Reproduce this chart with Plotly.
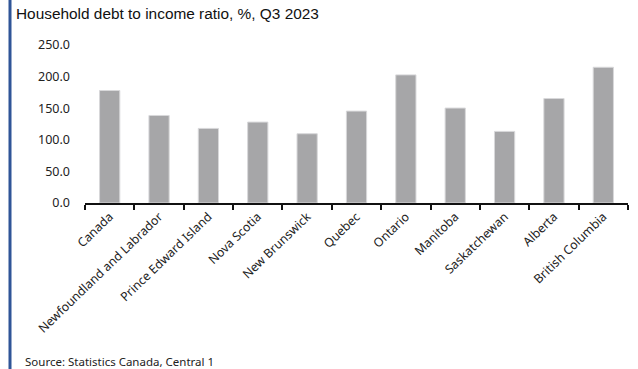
import plotly.graph_objects as go

categories = ["Canada", "Newfoundland and Labrador", "Prince Edward Island", "Nova Scotia",
              "New Brunswick", "Quebec", "Ontario", "Manitoba", "Saskatchewan", "Alberta",
              "British Columbia"]
values = [178.0, 138.5, 118.0, 128.0, 109.6, 145.4, 202.7, 150.2, 113.3, 165.3, 214.8]
y_ticks = [0, 50, 100, 150, 200, 250]
y_tick_labels = ["0.0", "50.0", "100.0", "150.0", "200.0", "250.0"]

W, H = 638, 369
L, R, T, B = 85, 10, 45, 165.5
pw = W - L - R

fig = go.Figure()
fig.add_trace(go.Bar(
    x=categories, y=values,
    marker=dict(color="#a6a6a8", line=dict(color="#d8d8da", width=1)),
    width=0.41,
))

fig.update_layout(
    width=W, height=H,
    margin=dict(l=L, r=R, t=T, b=B, pad=0),
    paper_bgcolor="white", plot_bgcolor="white",
    showlegend=False,
    font=dict(family="Noto Sans, Open Sans, sans-serif", color="#222222", size=12),
    title=dict(text="Household debt to income ratio, %, Q3 2023",
               x=16 / W, xanchor="left", xref="container",
               y=1 - 8 / H, yanchor="top", yref="container",
               font=dict(family="Liberation Sans, Arial, sans-serif", size=15.4, color="#111111")),
    xaxis=dict(
        showline=True, linecolor="#111111", linewidth=1.5,
        ticks="outside", tickson="boundaries", ticklen=5, tickcolor="#111111", tickwidth=1.5,
        tickangle=-44, tickfont=dict(size=12.3, color="#222222"),
        showgrid=False,
    ),
    yaxis=dict(
        range=[0, 250], tickvals=y_ticks, ticktext=y_tick_labels,
        showgrid=False, zeroline=False, showline=False,
        ticks="", ticklabelstandoff=14, tickfont=dict(size=12.5, color="#222222"),
    ),
    bargap=0.59,
)

fig.add_shape(type="line", xref="paper", yref="paper",
              x0=(10 - L) / pw, x1=(10 - L) / pw, y0=-2, y1=2,
              line=dict(color="#2f5597", width=3))

fig.add_annotation(text="Source: Statistics Canada, Central 1",
                   xref="paper", yref="paper",
                   x=(23 - L) / pw, y=-(353 - (H - B)) / (H - T - B),
                   xanchor="left", yanchor="top", showarrow=False,
                   font=dict(size=11.5, color="#222222"))

fig.write_html("out.html")
